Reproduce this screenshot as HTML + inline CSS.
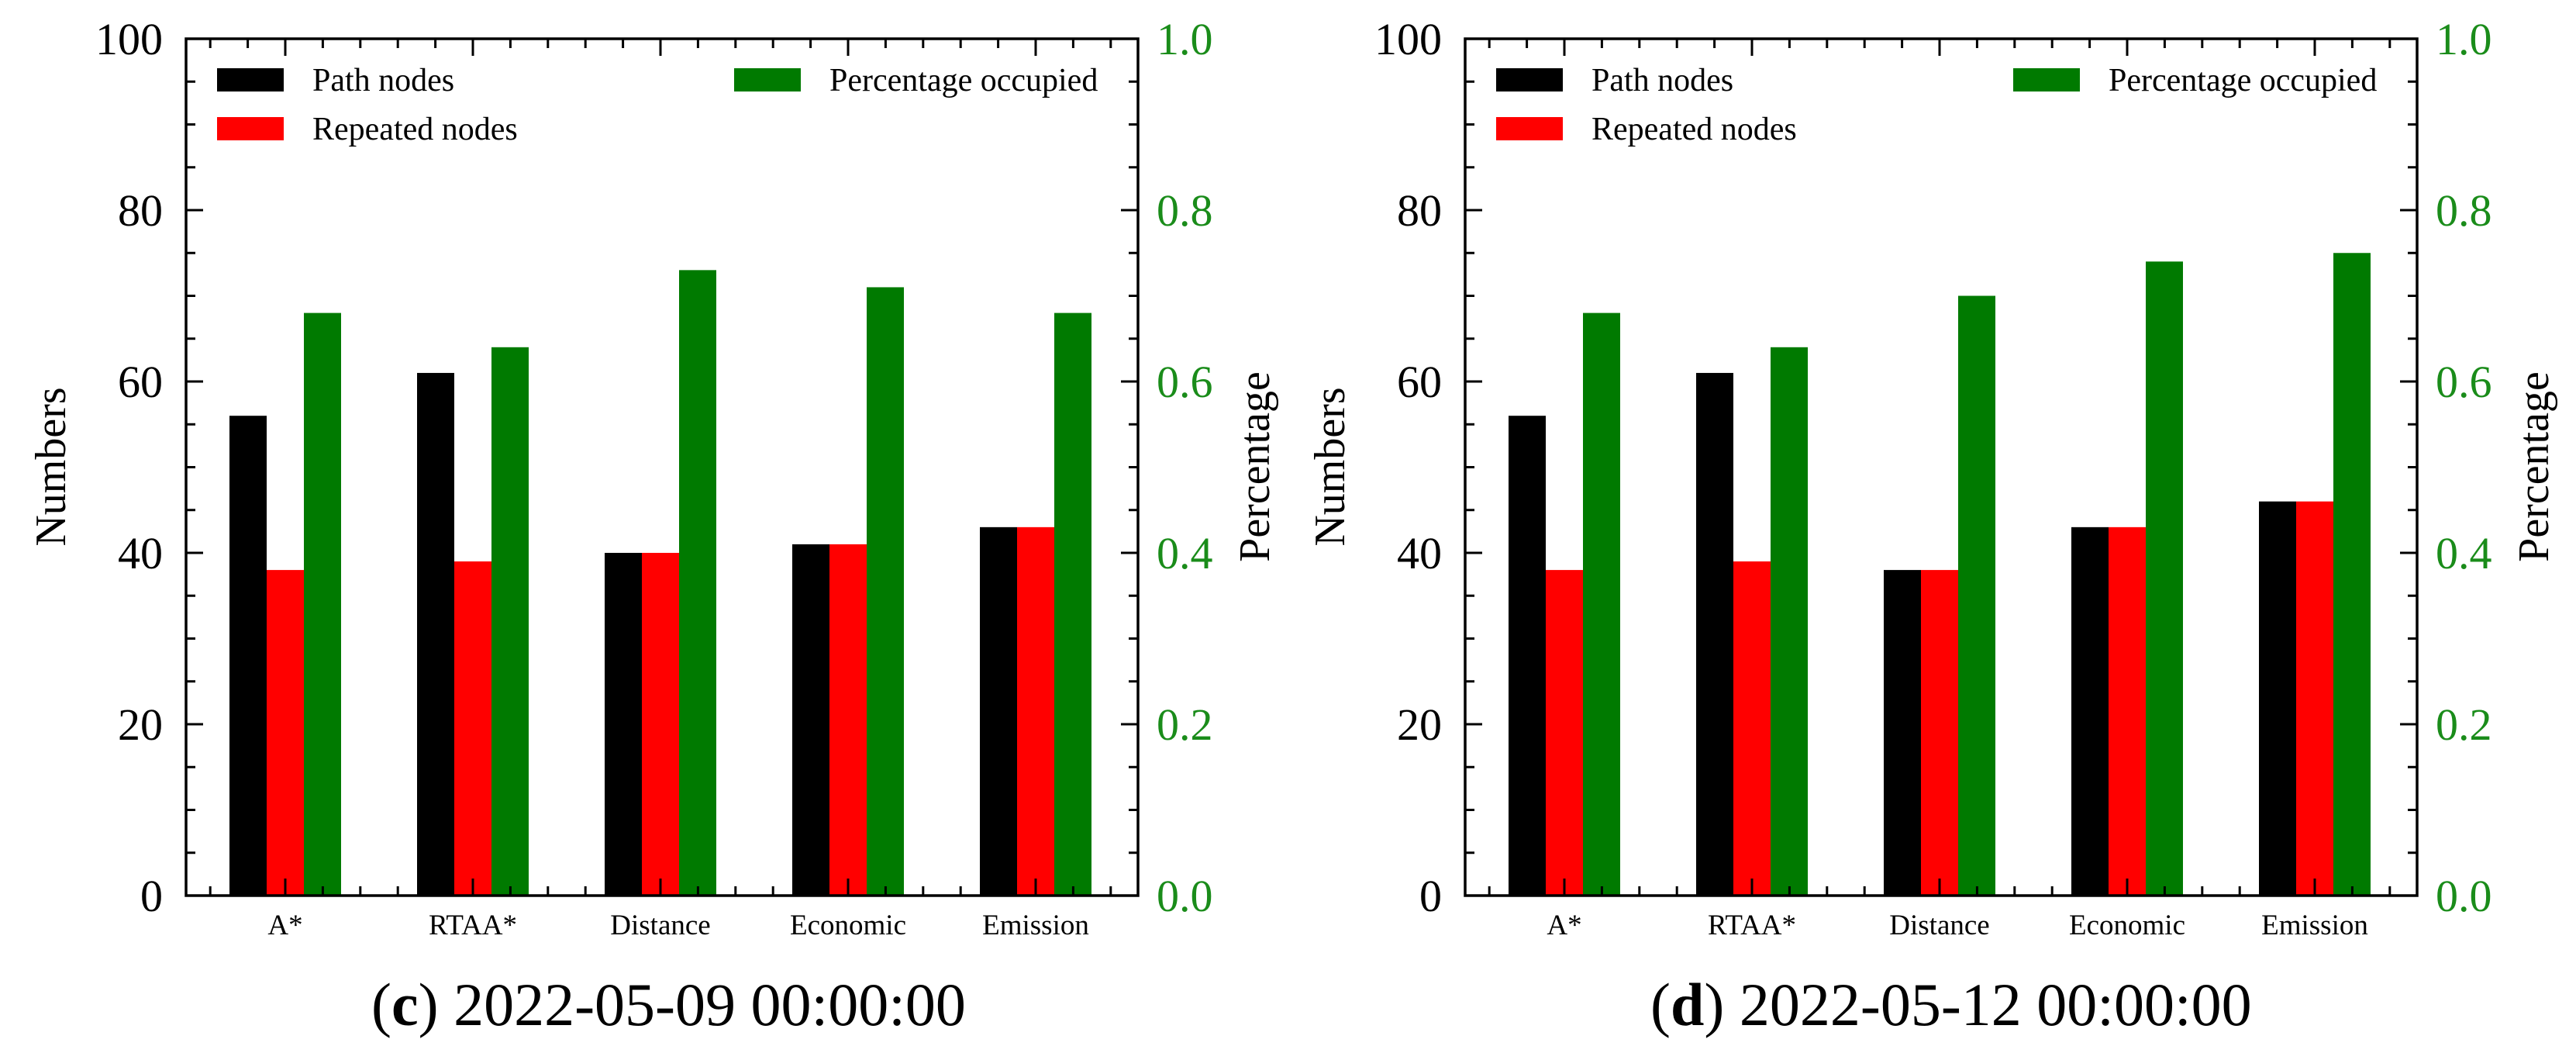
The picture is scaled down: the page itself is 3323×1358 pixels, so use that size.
<!DOCTYPE html>
<html><head><meta charset="utf-8"><style>
html,body{margin:0;padding:0;background:#fff;}
svg{display:block;font-family:"Liberation Serif",serif;}
</style></head><body>
<svg id="svg" width="3323" height="1358" viewBox="0 0 3323 1358" xmlns="http://www.w3.org/2000/svg"></svg>
<script>
const categories = ["A*","RTAA*","Distance","Economic","Emission"];
const pathC = [56,61,40,41,43];
const repC = [38,39,40,41,43];
const pctC = [0.68,0.64,0.73,0.71,0.68];
const pathD = [56,61,38,43,46];
const repD = [38,39,38,43,46];
const pctD = [0.68,0.64,0.70,0.74,0.75];
const leftTicks = [0,20,40,60,80,100];
const rightTicks = [0.0,0.2,0.4,0.6,0.8,1.0];
const captionsDate = ["2022-05-09 00:00:00","2022-05-12 00:00:00"];
const captionsLetter = ["c","d"];

const NS="http://www.w3.org/2000/svg";
const svg=document.getElementById('svg');
function mk(tag,attrs,parent){const e=document.createElementNS(NS,tag);for(const k in attrs)e.setAttribute(k,attrs[k]);(parent||svg).appendChild(e);return e;}

function drawChart(ox, path, rep, pct, idx){
  const L=240+ox, R=1468+ox, T=50, B=1155;
  const g=mk('g',{});
  
  
  const yL=v=>B-(v/100)*(B-T);
  const yR=v=>B-v*(B-T);
  const step=242, bw=48;
  const xc=i=>L+128+i*step;
  categories.forEach((c,i)=>{
    const cx=xc(i);
    let r=mk('rect',{x:cx-72,y:yL(path[i]),width:bw,height:B-yL(path[i]),fill:'#000'},g);
    
    
    r=mk('rect',{x:cx-24,y:yL(rep[i]),width:bw,height:B-yL(rep[i]),fill:'#ff0000'},g);
    
    
    r=mk('rect',{x:cx+24,y:yR(pct[i]),width:bw,height:B-yR(pct[i]),fill:'#007a00'},g);
    
    
    const t=mk('text',{x:cx,y:1205,'font-size':37,'text-anchor':'middle'},g);
    t.textContent=c;
    
    
  });
  for(let k=-2;k<=22;k++){
    const x=xc(0)+k*step/5;
    if(x<=L+2||x>=R-2)continue;
    const major=(k%5===0);
    const len=major?22:12;
    mk('line',{x1:x,y1:B,x2:x,y2:B-len,stroke:'#000','stroke-width':3},g);
    mk('line',{x1:x,y1:T,x2:x,y2:T+len,stroke:'#000','stroke-width':3},g);
  }
  for(let v=5;v<100;v+=5){
    const y=yL(v), len=(v%20===0)?22:12;
    mk('line',{x1:L,y1:y,x2:L+len,y2:y,stroke:'#000','stroke-width':3},g);
    mk('line',{x1:R,y1:y,x2:R-len,y2:y,stroke:'#000','stroke-width':3},g);
  }
  leftTicks.forEach(v=>{
    const t=mk('text',{x:L-30,y:yL(v)+20,'font-size':58,'text-anchor':'end'},g);
    t.textContent=v;
    
    
  });
  rightTicks.forEach(v=>{
    const t=mk('text',{x:R+24,y:yR(v)+20,'font-size':58,fill:'#1a8c1a'},g);
    t.textContent=v.toFixed(1);
    
    
  });
  const frame=mk('rect',{x:L,y:T,width:R-L,height:B-T,fill:'none',stroke:'#000','stroke-width':3.5},g);
  
  
  let t=mk('text',{x:0,y:0,'font-size':56,'text-anchor':'middle',transform:`translate(${84+ox},602) rotate(-90)`},g);
  t.textContent='Numbers';
  
  
  t=mk('text',{x:0,y:0,'font-size':56,'text-anchor':'middle',transform:`translate(${1637+ox},602) rotate(-90)`},g);
  t.textContent='Percentage';
  
  
  const leg=[[280,88,'#000','Path nodes'],[280,151,'#ff0000','Repeated nodes'],[947,88,'#007a00','Percentage occupied']];
  leg.forEach(l=>{
    const lg=mk('g',{},g);
    
    
    mk('rect',{x:l[0]+ox,y:l[1],width:86,height:30,fill:l[2]},lg);
    const tt=mk('text',{x:l[0]+ox+123,y:l[1]+29,'font-size':42},lg);
    tt.textContent=l[3];
  });
  t=mk('text',{x:479+ox,y:1322,'font-size':78},g);
  
  
  const s1=mk('tspan',{},t);s1.textContent='(';
  const s2=mk('tspan',{'font-weight':'bold'},t);s2.textContent=captionsLetter[idx];
  const s3=mk('tspan',{},t);s3.textContent=') '+captionsDate[idx];
}
drawChart(0,pathC,repC,pctC,0);
drawChart(1650,pathD,repD,pctD,1);
</script>
</body></html>
